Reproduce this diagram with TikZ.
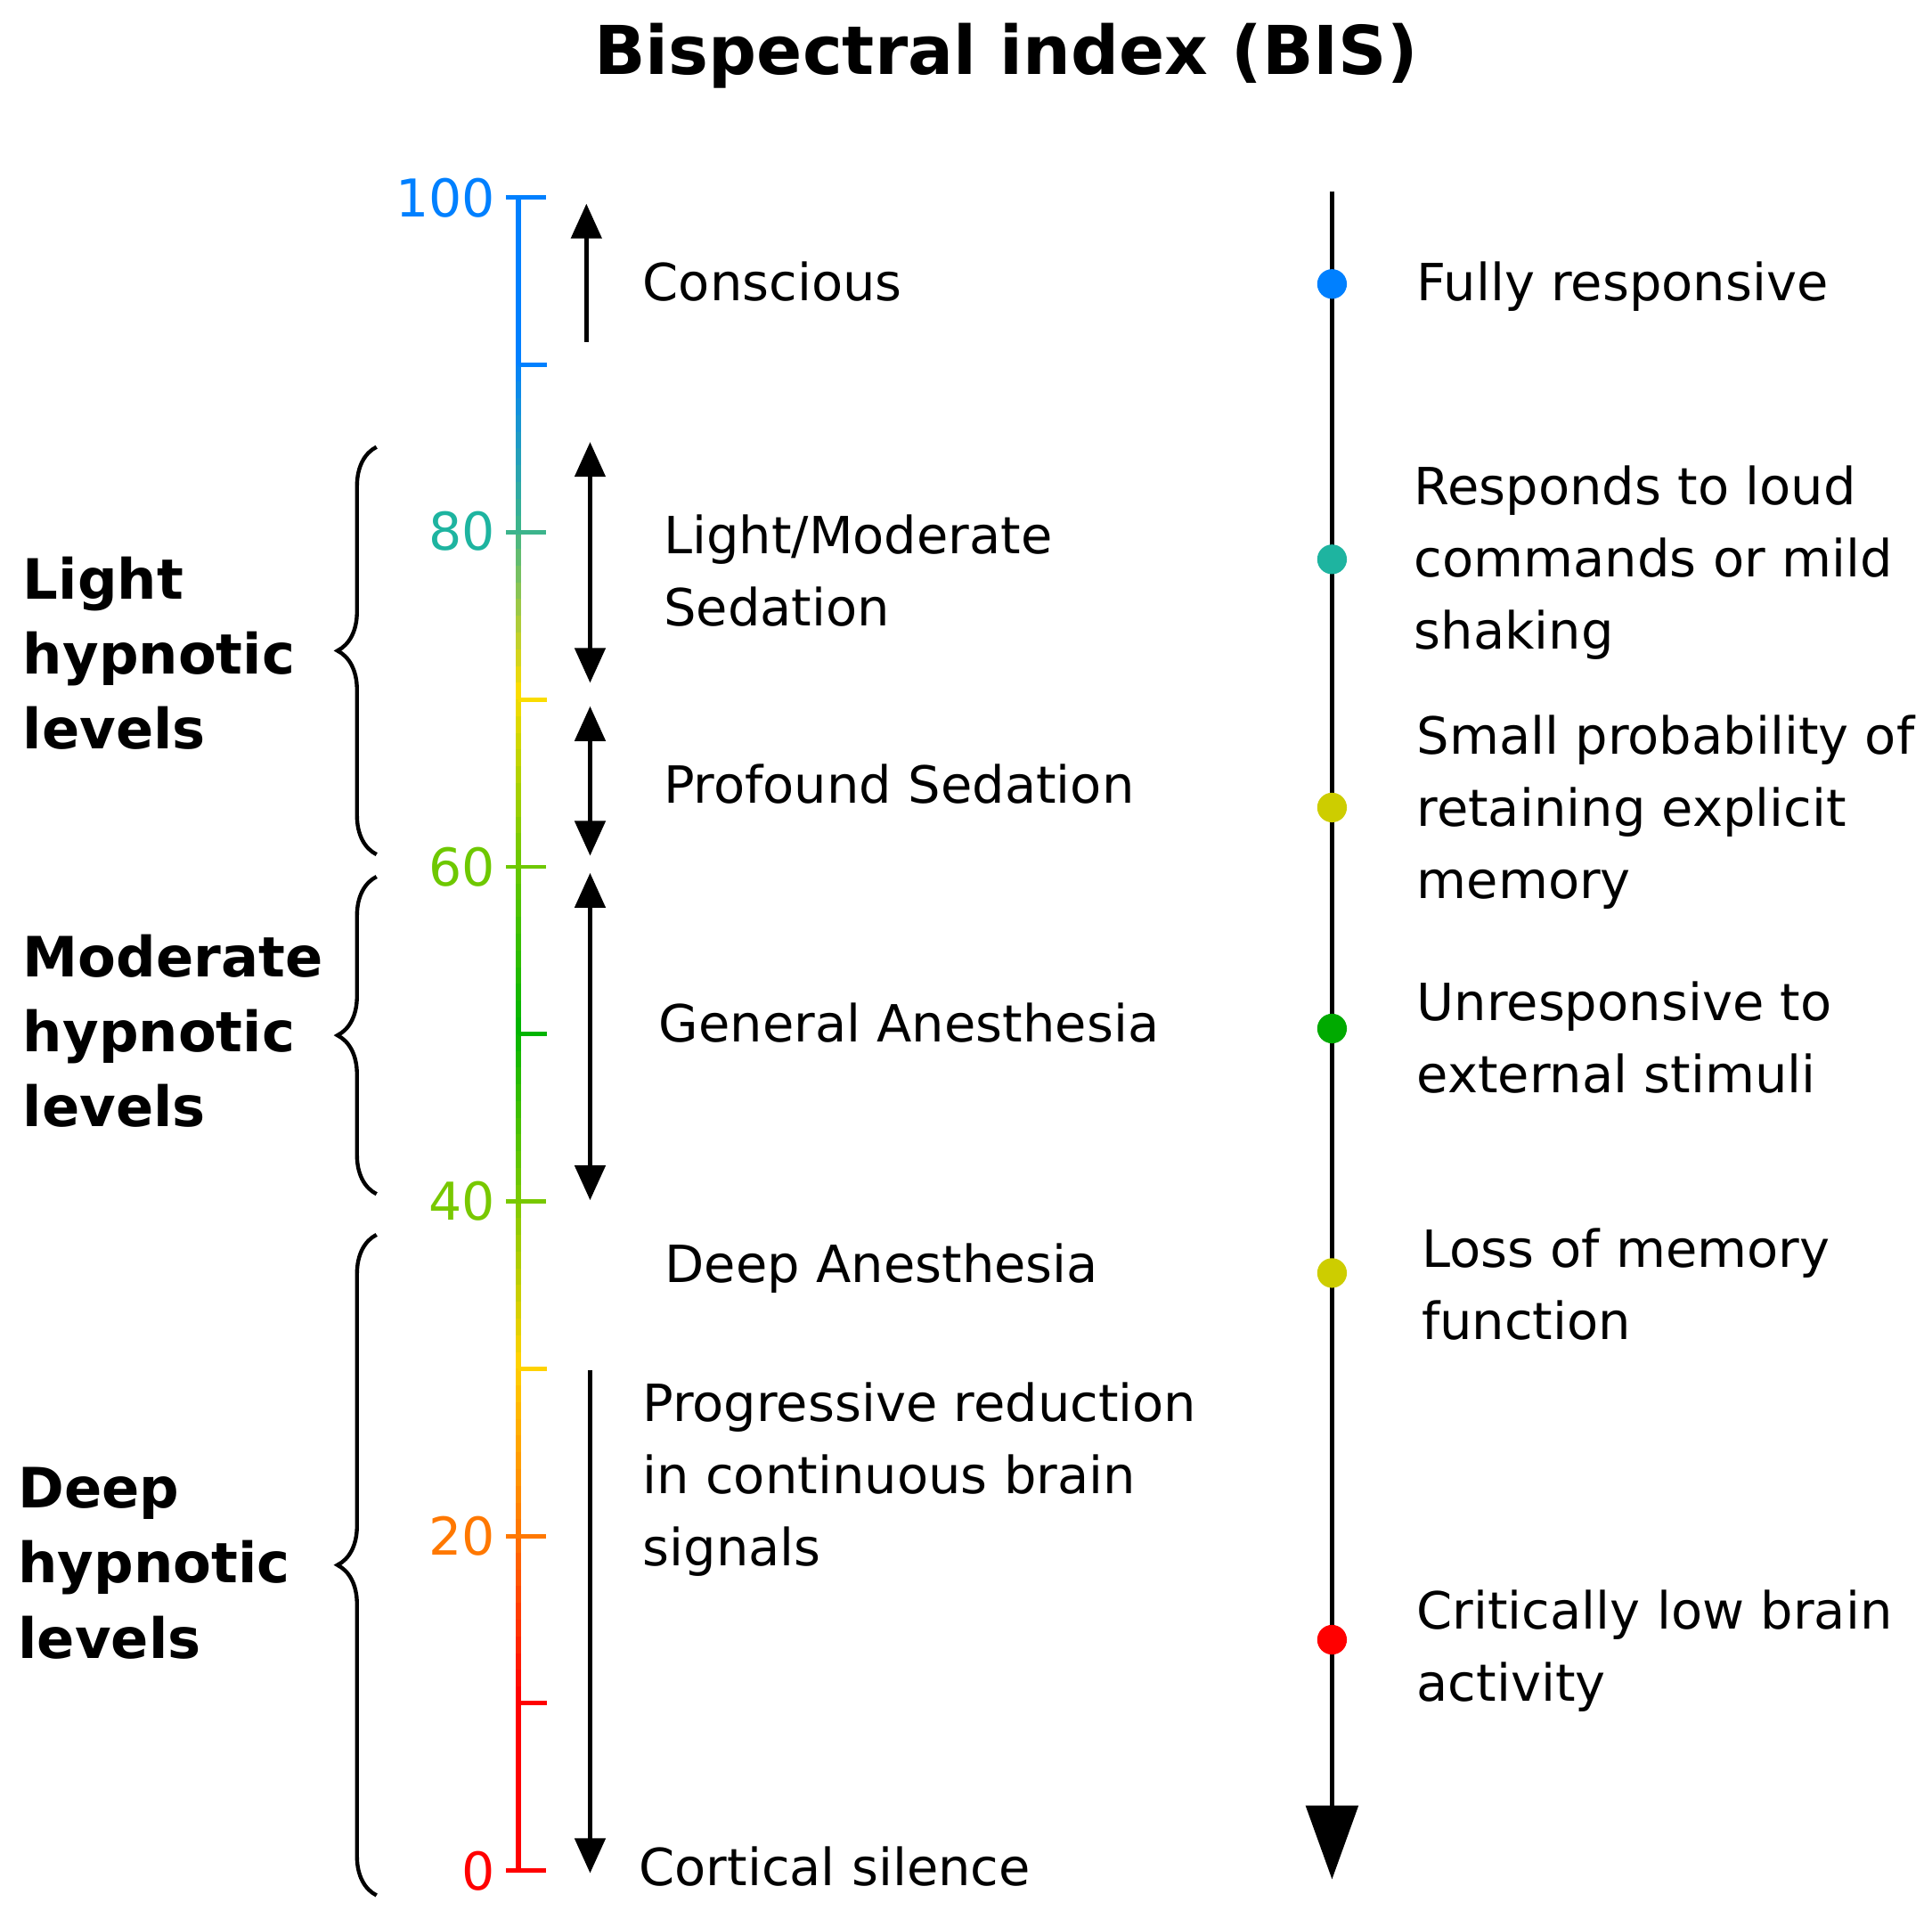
\documentclass[tikz,border=0pt]{standalone}
\usepackage{fontspec}
\setmainfont{DejaVu Sans}
\usetikzlibrary{arrows.meta,decorations.pathreplacing}
\definecolor{c10}{RGB}{0,128,255}
\definecolor{c9}{RGB}{0,128,255}
\definecolor{c8}{RGB}{60,180,140}
\definecolor{c7}{RGB}{250,220,0}
\definecolor{c6}{RGB}{110,200,0}
\definecolor{c5}{RGB}{0,180,0}
\definecolor{c4}{RGB}{120,200,0}
\definecolor{c3}{RGB}{255,210,0}
\definecolor{c2}{RGB}{255,120,0}
\definecolor{c1}{RGB}{255,0,0}
\definecolor{c0}{RGB}{255,0,0}
\definecolor{tealc}{RGB}{30,180,160}
\definecolor{dotyel}{RGB}{205,205,0}
\definecolor{dotgreen}{RGB}{0,170,0}
\begin{document}
\begin{tikzpicture}[x=0.01cm,y=-0.01cm,
  txt/.style={anchor=west,align=left,font=\fontsize{11.8}{16.6}\selectfont,inner sep=0pt},
  bl/.style={anchor=west,align=left,font=\fontsize{12.8}{17.3}\selectfont\bfseries,inner sep=0pt},
  num/.style={anchor=east,font=\fontsize{12}{14}\selectfont,inner sep=0pt},
  arr/.style={-{Triangle[length=8pt,width=7pt]},line width=0.9pt},
  darr/.style={{Triangle[length=8pt,width=7pt]}-{Triangle[length=8pt,width=7pt]},line width=0.9pt},
  brc/.style={decorate,decoration={brace,amplitude=9pt},line width=0.9pt},
  dot/.style={circle,fill=#1,minimum size=0.24cm,inner sep=0pt}]
\useasboundingbox (0,0) rectangle (1565,1554);
\node[font=\fontsize{15.5}{18}\selectfont\bfseries] (title) at (815,45) {Bispectral index (BIS)};
% colored axis
\foreach \k in {0,...,9}{
  \pgfmathtruncatemacro\kk{\k+1}
  \foreach \j in {0,...,9}{
    \pgfmathtruncatemacro\p{100-\j*10}
    \draw[line width=1.1pt,color=c\k!\p!c\kk] (420,{1515-(\k*10+\j)*13.55}) -- (420,{1515-(\k*10+\j+1)*13.55-0.5});
  }}
\foreach \v/\c in {100/c10,80/c8,60/c6,40/c4,20/c2,0/c1}{
  \draw[line width=1pt,\c] (410,{1515-\v*13.55}) -- (442,{1515-\v*13.55});}
\foreach \v/\c in {90/c9,70/c7,50/c5,30/c3,10/c1}{
  \draw[line width=1pt,\c] (420,{1515-\v*13.55}) -- (443,{1515-\v*13.55});}
\node[num,color=c10] (n100) at (402,160) {100};
\node[num,color=tealc] (n80) at (402,430) {80};
\node[num,color=c6] (n60) at (402,702) {60};
\node[num,color=c4] (n40) at (402,973) {40};
\node[num,color=c2] (n20) at (402,1244) {20};
\node[num,color=c1] (n0) at (402,1515) {0};
% arrows
\coordinate (a1) at (475,277); \coordinate (a2) at (475,165);
\draw[arr] (a1) -- (a2);
\coordinate (b1) at (478,358); \coordinate (b2) at (478,553);
\draw[darr] (b1) -- (b2);
\coordinate (p1) at (478,572); \coordinate (p2) at (478,693);
\draw[darr] (p1) -- (p2);
\coordinate (g1) at (478,707); \coordinate (g2) at (478,972);
\draw[darr] (g1) -- (g2);
\coordinate (r1) at (478,1110); \coordinate (r2) at (478,1517);
\draw[arr] (r1) -- (r2);
% middle texts
\node[txt] (t1) at (520,228) {Conscious};
\node[txt] (t2) at (537,462) {Light/Moderate\\Sedation};
\node[txt] (t3) at (537,635) {Profound Sedation};
\node[txt] (t4) at (533,828) {General Anesthesia};
\node[txt] (t5) at (538,1027) {Deep Anesthesia};
\node[txt] (t6) at (520,1198) {Progressive reduction\\in continuous brain\\signals};
\node[txt] (t7) at (517,1512) {Cortical silence};
% right axis
\coordinate (s1) at (1079,155); \coordinate (s2) at (1079,1522);
\draw[line width=0.9pt,-{Triangle[length=17pt,width=12pt]}] (s1) -- (s2);
\node[dot=c10] (d1) at (1079,230) {};
\node[dot=tealc] (d2) at (1079,453) {};
\node[dot=dotyel] (d3) at (1079,654) {};
\node[dot=dotgreen] (d4) at (1079,833) {};
\node[dot=dotyel] (d5) at (1079,1031) {};
\node[dot=red] (d6) at (1079,1328) {};
\node[txt] (e1) at (1147,232) {Fully responsive};
\node[txt] (e2) at (1145,456) {Responds to loud\\commands or mild\\shaking};
\node[txt] (e3) at (1147,658) {Small probability of\\retaining explicit\\memory};
\node[txt] (e4) at (1147,840) {Unresponsive to\\external stimuli};
\node[txt] (e5) at (1151,1040) {Loss of memory\\function};
\node[txt] (e6) at (1147,1337) {Critically low brain\\activity};
% braces
\coordinate (L1) at (305,692); \coordinate (L2) at (305,362);
\draw[brc] (L1) -- (L2);
\coordinate (M1) at (305,967); \coordinate (M2) at (305,710);
\draw[brc] (M1) -- (M2);
\coordinate (D1) at (305,1535); \coordinate (D2) at (305,1000);
\draw[brc] (D1) -- (D2);
\node[bl] (h1) at (18,529) {Light\\hypnotic\\levels};
\node[bl] (h2) at (18,835) {Moderate\\hypnotic\\levels};
\node[bl] (h3) at (14,1266) {Deep\\hypnotic\\levels};
\end{tikzpicture}
\end{document}
